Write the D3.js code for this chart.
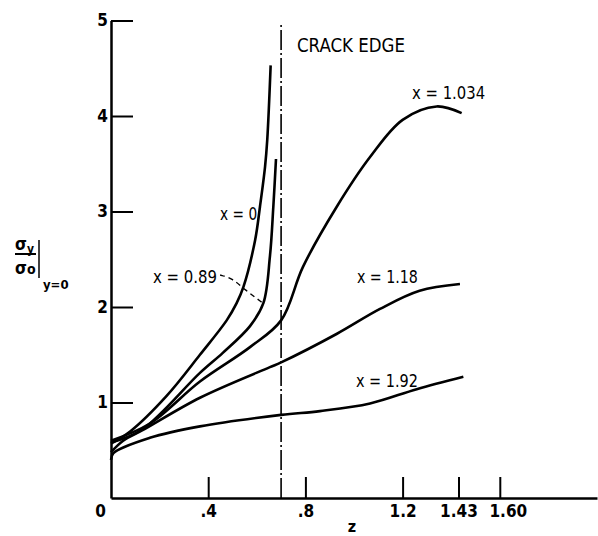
<!DOCTYPE html>
<html>
<head>
<meta charset="utf-8">
<script src="https://cdn.jsdelivr.net/npm/d3@7"></script>
<style>
  body { margin: 0; background: #fff; }
  text { font-family: "DejaVu Sans Condensed", "DejaVu Sans", sans-serif; fill: #000; }
</style>
</head>
<body>
<svg id="chart" width="598" height="536"></svg>
<script>

// values
var zTicks      = [0, 0.4, 0.8, 1.2, 1.43, 1.60];
var zTickLabels = ["0", ".4", ".8", "1.2", "1.43", "1.60"];
var sTicks      = [1, 2, 3, 4, 5];
var CRACK_EDGE  = 0.70;

var seriesNames = ["x = 0", "x = 0.89", "x = 1.034", "x = 1.18", "x = 1.92"];

var zX0   = [0, 0.08, 0.229, 0.366, 0.476, 0.517, 0.545, 0.593, 0.613, 0.634, 0.643, 0.657];
var sX0   = [0.57, 0.70, 1.07, 1.50, 1.86, 2.04, 2.21, 2.70, 3.05, 3.47, 3.75, 4.53];

var zX089 = [0, 0.13, 0.366, 0.46, 0.572, 0.627, 0.654, 0.668, 0.679];
var sX089 = [0.58, 0.72, 1.31, 1.52, 1.80, 2.04, 2.53, 3.05, 3.55];

var zX1034 = [0, 0.16, 0.366, 0.572, 0.70, 0.79, 0.929, 1.066, 1.20, 1.34, 1.443];
var sX1034 = [0.60, 0.78, 1.22, 1.58, 1.86, 2.42, 3.05, 3.57, 3.96, 4.10, 4.03];

var zX118 = [0, 0.05, 0.13, 0.366, 0.654, 0.70, 0.93, 1.107, 1.27, 1.436];
var sX118 = [0.48, 0.60, 0.71, 1.05, 1.37, 1.42, 1.72, 1.98, 2.17, 2.24];

var zX192 = [0, 0.01, 0.16, 0.366, 0.70, 0.86, 1.066, 1.258, 1.45];
var sX192 = [0.40, 0.47, 0.63, 0.75, 0.87, 0.91, 0.99, 1.14, 1.27];


var svg = d3.select("#chart");
svg.append("rect").attr("width", 598).attr("height", 536).attr("fill", "#fff");

var x = d3.scaleLinear().domain([0, 2.0]).range([111, 597]);
var y = d3.scaleLinear().domain([0, 5]).range([498, 20.5]);

var series = [
  {name: seriesNames[0], z: zX0,    s: sX0},
  {name: seriesNames[1], z: zX089,  s: sX089},
  {name: seriesNames[2], z: zX1034, s: sX1034},
  {name: seriesNames[3], z: zX118,  s: sX118},
  {name: seriesNames[4], z: zX192,  s: sX192}
];

// axes
var xAxis = svg.append("g")
  .attr("transform", "translate(0," + y(0) + ")")
  .call(d3.axisBottom(x)
          .tickValues(zTicks)
          .tickSize(-21)
          .tickSizeOuter(0)
          .tickPadding(7)
          .tickFormat(function(d, i) { return zTickLabels[i]; }));

var yAxis = svg.append("g")
  .attr("transform", "translate(" + x(0) + ",0)")
  .call(d3.axisLeft(y)
          .tickValues(sTicks)
          .tickSize(-22)
          .tickSizeOuter(0)
          .tickPadding(3)
          .tickFormat(d3.format("d")));

svg.selectAll(".domain").attr("stroke", "#000").attr("stroke-width", 2.5);
svg.selectAll(".tick line").attr("stroke", "#000").attr("stroke-width", 2);
svg.selectAll(".tick text")
   .attr("font-size", "17px")
   .attr("font-weight", "bold")
   .style("font-family", "'DejaVu Sans Condensed', 'DejaVu Sans', sans-serif");

// nudge the outer x labels the way the scan has them
xAxis.selectAll(".tick text").attr("dx", function(d) {
  if (d == 0) return -11;
  if (d == 1.60) return 8;
  return 0;
});
// no tick stub at the origin
xAxis.selectAll(".tick").filter(function(d) { return d == 0; }).select("line").remove();

// axis title z
svg.append("text")
   .text("z")
   .attr("x", 352)
   .attr("y", 532)
   .attr("text-anchor", "middle")
   .attr("font-size", "16px")
   .attr("font-weight", "bold");

// y title: sigma_y / sigma_o | y=0
var yt = svg.append("g");
yt.append("text").attr("x", 15).attr("y", 250).attr("font-size", "17px").attr("font-weight", "bold")
  .text("σ").append("tspan").attr("font-size", "12px").attr("dy", 3).text("y");
yt.append("line").attr("x1", 15).attr("x2", 36).attr("y1", 254).attr("y2", 254)
  .attr("stroke", "#000").attr("stroke-width", 2);
yt.append("text").attr("x", 15).attr("y", 274).attr("font-size", "17px").attr("font-weight", "bold")
  .text("σ").append("tspan").attr("font-size", "14px").attr("dy", 0).text("o");
yt.append("line").attr("x1", 39).attr("x2", 39).attr("y1", 240).attr("y2", 278)
  .attr("stroke", "#000").attr("stroke-width", 1.5);
yt.append("text").attr("x", 43).attr("y", 289).attr("font-size", "13px").attr("font-weight", "bold")
  .text("y=0");

// crack edge
svg.append("line")
   .attr("x1", x(CRACK_EDGE)).attr("x2", x(CRACK_EDGE))
   .attr("y1", y(0)).attr("y2", y(4.98))
   .attr("stroke", "#000")
   .attr("stroke-width", 1.6)
   .attr("stroke-dasharray", "20,3,2,3");

svg.append("text")
   .text("CRACK EDGE")
   .attr("x", 297).attr("y", 52)
   .attr("font-size", "19px")
   .attr("textLength", 108)
   .attr("lengthAdjust", "spacingAndGlyphs");

// curves
var line = d3.line()
  .x(function(d) { return x(d[0]); })
  .y(function(d) { return y(d[1]); })
  .curve(d3.curveCatmullRom.alpha(0.5));

series.forEach(function(sr) {
  var pts = sr.z.map(function(z, i) { return [z, sr.s[i]]; });
  svg.append("path")
     .datum(pts)
     .attr("d", line)
     .attr("fill", "none")
     .attr("stroke", "#000")
     .attr("stroke-width", 2.6)
     .attr("class", "line");
});

// curve labels, placed in data space
var labelSpots = [
  {name: seriesNames[0], z: 0.449, s: 2.91, w: 37},
  {name: seriesNames[1], z: 0.173, s: 2.256, w: 64},
  {name: seriesNames[2], z: 1.239, s: 4.18, w: 73},
  {name: seriesNames[3], z: 1.012, s: 2.256, w: 61},
  {name: seriesNames[4], z: 1.008, s: 1.167, w: 62}
];

labelSpots.forEach(function(l) {
  svg.append("text")
     .text(l.name)
     .attr("x", x(l.z))
     .attr("y", y(l.s))
     .attr("font-size", "17px")
     .attr("textLength", l.w)
     .attr("lengthAdjust", "spacingAndGlyphs");
});

// dashed leader from the x = 0.89 label
svg.append("path")
   .datum([[0.449, 2.335], [0.50, 2.30], [0.551, 2.18], [0.626, 2.04]])
   .attr("d", d3.line()
                .x(function(d) { return x(d[0]); })
                .y(function(d) { return y(d[1]); })
                .curve(d3.curveBasis))
   .attr("fill", "none")
   .attr("stroke", "#000")
   .attr("stroke-width", 1.4)
   .attr("stroke-dasharray", "5,4");

</script>
</body>
</html>
